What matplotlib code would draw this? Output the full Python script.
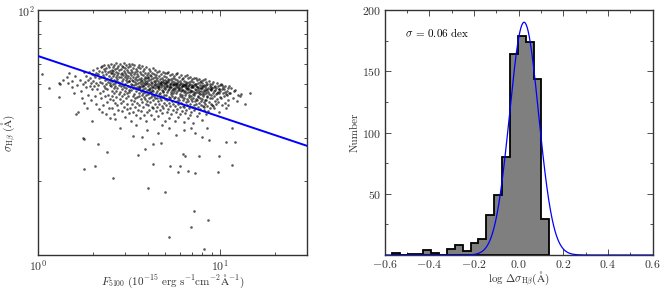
import numpy as np
import matplotlib
matplotlib.use("Agg")
import matplotlib.pyplot as plt
from matplotlib.ticker import FixedLocator, NullFormatter

plt.rcParams['font.family'] = 'serif'
plt.rcParams['font.serif'] = ['cmr10', 'DejaVu Serif']
plt.rcParams['mathtext.fontset'] = 'cm'
plt.rcParams['axes.formatter.use_mathtext'] = True
plt.rcParams['axes.unicode_minus'] = True

# ---------------- data: scatter (log10 F5100, log10 sigma_Hbeta) ----------------
left_pts = [(0.020,1.739),(0.060,1.680),(0.117,1.701),(0.114,1.646),(0.119,1.698),(0.140,1.715),
 (0.158,1.725),(0.166,1.703),(0.172,1.741),(0.187,1.687),(0.189,1.710),(0.196,1.662),(0.205,1.732),
 (0.207,1.574),(0.214,1.694),(0.221,1.582),(0.228,1.716),(0.236,1.668),(0.243,1.640),(0.249,1.697),
 (0.252,1.745),(0.254,1.622),(0.258,1.708),(0.261,1.684),(0.264,1.731),(0.269,1.599),(0.272,1.716),
 (0.275,1.655),(0.279,1.748),(0.283,1.691),(0.286,1.723),(0.289,1.634),(0.292,1.702),(0.295,1.740),
 (0.297,1.548),(0.299,1.676),
 (0.301,1.757),(0.303,1.712),(0.306,1.690),(0.308,1.733),(0.311,1.651),(0.313,1.726),(0.316,1.744),
 (0.318,1.618),(0.320,1.702),(0.323,1.762),(0.325,1.679),(0.327,1.739),(0.330,1.695),(0.333,1.595),
 (0.335,1.750),(0.337,1.721),(0.340,1.663),(0.342,1.708),(0.344,1.766),(0.346,1.640),(0.348,1.728),
 (0.349,1.584)]

ridge_pts = [(0.351,1.771),(0.352,1.702),(0.354,1.745),(0.355,1.668),(0.357,1.733),(0.358,1.612),
 (0.360,1.758),(0.361,1.690),(0.363,1.726),(0.364,1.774),(0.366,1.648),(0.367,1.714),(0.369,1.752),
 (0.370,1.683),(0.372,1.577),(0.373,1.739),(0.375,1.697),(0.376,1.762),(0.378,1.625),(0.379,1.720),
 (0.381,1.678),(0.382,1.776),(0.384,1.708),(0.385,1.745),(0.387,1.655),(0.388,1.731),(0.390,1.598),
 (0.391,1.767),(0.393,1.693),(0.394,1.716),(0.396,1.752),(0.397,1.637),(0.398,1.704),(0.399,1.742),
 (0.395,1.561),
 (0.401,1.779),(0.402,1.688),(0.403,1.724),(0.404,1.650),(0.405,1.757),(0.406,1.712),(0.407,1.601),
 (0.408,1.741),(0.409,1.671),(0.410,1.768),(0.411,1.697),(0.412,1.633),(0.413,1.729),(0.414,1.752),
 (0.415,1.683),(0.416,1.575),(0.417,1.716),(0.418,1.776),(0.419,1.662),(0.420,1.738),(0.421,1.701),
 (0.422,1.620),(0.423,1.555),(0.424,1.760),(0.425,1.691),(0.426,1.727),(0.427,1.646),(0.428,1.748),
 (0.429,1.709),(0.430,1.783),(0.431,1.668),(0.432,1.735),(0.433,1.612),(0.434,1.719),(0.435,1.764),
 (0.436,1.680),(0.437,1.743),(0.438,1.590),(0.439,1.705),(0.441,1.772),(0.443,1.657),(0.444,1.726),
 (0.446,1.694),(0.447,1.755),(0.449,1.638),
 (0.451,1.781),(0.452,1.702),(0.453,1.664),(0.454,1.739),(0.455,1.621),(0.456,1.758),(0.457,1.688),
 (0.458,1.725),(0.459,1.650),(0.460,1.772),(0.461,1.711),(0.462,1.587),(0.463,1.744),(0.464,1.676),
 (0.465,1.733),(0.466,1.628),(0.467,1.766),(0.468,1.695),(0.469,1.719),(0.470,1.658),(0.471,1.751),
 (0.472,1.684),(0.473,1.785),(0.474,1.606),(0.475,1.728),(0.476,1.669),(0.477,1.741),(0.478,1.699),
 (0.479,1.562),(0.480,1.762),(0.481,1.642),(0.482,1.715),(0.483,1.777),(0.484,1.680),(0.485,1.736),
 (0.486,1.615),(0.487,1.706),(0.488,1.754),(0.489,1.661),(0.490,1.722),(0.491,1.596),(0.492,1.769),
 (0.493,1.690),(0.494,1.731),(0.495,1.647),(0.496,1.748),(0.497,1.673),(0.498,1.712),(0.499,1.578),
 (0.499,1.781),
 (0.501,1.709),(0.502,1.665),(0.503,1.742),(0.504,1.598),(0.505,1.771),(0.506,1.687),(0.507,1.723),
 (0.508,1.634),(0.509,1.756),(0.510,1.700),(0.511,1.546),(0.512,1.734),(0.513,1.672),(0.514,1.779),
 (0.515,1.617),(0.516,1.716),(0.517,1.692),(0.518,1.748),(0.519,1.651),(0.520,1.727),(0.521,1.583),
 (0.522,1.764),(0.523,1.680),(0.524,1.710),(0.525,1.628),(0.526,1.739),(0.527,1.694),(0.528,1.658),
 (0.529,1.774),(0.530,1.719),(0.531,1.604),(0.532,1.683),(0.533,1.746),(0.534,1.641),(0.535,1.707),
 (0.536,1.760),(0.537,1.669),(0.538,1.728),(0.539,1.571),(0.540,1.698),(0.541,1.752),(0.542,1.645),
 (0.543,1.714),(0.544,1.686),(0.545,1.737),(0.546,1.620),(0.547,1.768),(0.548,1.676),(0.549,1.703),
 (0.550,1.592)]

core_pts = [(0.551,1.731),(0.552,1.662),(0.553,1.776),(0.554,1.690),(0.555,1.611),(0.556,1.720),
 (0.557,1.648),(0.558,1.747),(0.559,1.684),(0.560,1.559),(0.561,1.706),(0.562,1.765),(0.563,1.637),
 (0.564,1.724),(0.565,1.671),(0.566,1.696),(0.567,1.589),(0.568,1.740),(0.569,1.655),(0.570,1.712),
 (0.571,1.773),(0.572,1.626),(0.573,1.688),(0.574,1.733),(0.575,1.660),(0.576,1.702),(0.577,1.752),
 (0.578,1.603),(0.579,1.679),(0.580,1.718),(0.581,1.644),(0.582,1.760),(0.583,1.693),(0.584,1.573),
 (0.585,1.727),(0.586,1.667),(0.587,1.709),(0.588,1.638),(0.589,1.744),(0.590,1.682),(0.591,1.615),
 (0.592,1.721),(0.593,1.653),(0.594,1.769),(0.595,1.699),(0.596,1.585),(0.597,1.736),(0.598,1.674),
 (0.599,1.711),(0.600,1.630),(0.594,1.548),(0.577,1.688),(0.565,1.715),(0.588,1.702),(0.553,1.681),
 (0.601,1.703),(0.602,1.658),(0.603,1.744),(0.604,1.612),(0.605,1.689),(0.606,1.725),(0.607,1.641),
 (0.608,1.761),(0.609,1.677),(0.610,1.714),(0.611,1.593),(0.612,1.698),(0.613,1.736),(0.614,1.625),
 (0.615,1.683),(0.616,1.752),(0.617,1.665),(0.618,1.708),(0.619,1.571),(0.620,1.729),(0.621,1.646),
 (0.622,1.693),(0.623,1.718),(0.624,1.606),(0.625,1.673),(0.626,1.742),(0.627,1.655),(0.628,1.701),
 (0.629,1.634),(0.630,1.764),(0.631,1.686),(0.632,1.722),(0.633,1.598),(0.634,1.669),(0.635,1.711),
 (0.636,1.740),(0.637,1.651),(0.638,1.694),(0.639,1.556),(0.640,1.727),(0.641,1.618),(0.642,1.680),
 (0.643,1.705),(0.644,1.754),(0.645,1.639),(0.646,1.690),(0.647,1.716),(0.648,1.662),(0.649,1.587),
 (0.650,1.733),(0.612,1.675),(0.628,1.687),(0.641,1.699),(0.605,1.721),(0.622,1.664),
 (0.651,1.697),(0.652,1.642),(0.653,1.722),(0.654,1.669),(0.655,1.605),(0.656,1.745),(0.657,1.684),
 (0.658,1.711),(0.659,1.627),(0.660,1.690),(0.661,1.568),(0.662,1.731),(0.663,1.656),(0.664,1.703),
 (0.665,1.616),(0.666,1.678),(0.667,1.752),(0.668,1.640),(0.669,1.696),(0.670,1.719),(0.671,1.591),
 (0.672,1.662),(0.673,1.708),(0.674,1.633),(0.675,1.686),(0.676,1.737),(0.677,1.651),(0.678,1.700),
 (0.679,1.579),(0.680,1.724),(0.681,1.610),(0.682,1.673),(0.683,1.693),(0.684,1.746),(0.685,1.645),
 (0.686,1.714),(0.687,1.666),(0.688,1.598),(0.689,1.705),(0.690,1.682),(0.691,1.729),(0.692,1.622),
 (0.693,1.688),(0.694,1.655),(0.695,1.716),(0.696,1.547),(0.697,1.698),(0.698,1.638),(0.699,1.741),
 (0.700,1.676),(0.663,1.690),(0.677,1.707),(0.688,1.671),(0.659,1.683),(0.694,1.701),
 (0.701,1.701),(0.702,1.652),(0.703,1.727),(0.704,1.612),(0.705,1.684),(0.706,1.744),(0.707,1.664),
 (0.708,1.709),(0.709,1.585),(0.710,1.691),(0.711,1.633),(0.712,1.720),(0.713,1.673),(0.714,1.597),
 (0.715,1.706),(0.716,1.748),(0.717,1.646),(0.718,1.687),(0.719,1.621),(0.720,1.714),(0.721,1.561),
 (0.722,1.679),(0.723,1.699),(0.724,1.735),(0.725,1.640),(0.726,1.692),(0.727,1.608),(0.728,1.667),
 (0.729,1.718),(0.730,1.656),(0.731,1.703),(0.732,1.574),(0.733,1.686),(0.734,1.739),(0.735,1.627),
 (0.736,1.675),(0.737,1.710),(0.738,1.648),(0.739,1.694),(0.740,1.592),(0.741,1.724),(0.742,1.661),
 (0.743,1.696),(0.744,1.615),(0.745,1.681),(0.746,1.731),(0.747,1.639),(0.748,1.706),(0.749,1.669),
 (0.750,1.548),(0.711,1.693),(0.727,1.684),(0.739,1.677),(0.705,1.708),(0.745,1.698)]

right_pts = [(0.751,1.693),(0.752,1.646),(0.753,1.718),(0.754,1.608),(0.755,1.676),(0.756,1.737),
 (0.757,1.661),(0.758,1.702),(0.759,1.583),(0.760,1.687),(0.761,1.627),(0.762,1.713),(0.763,1.668),
 (0.764,1.597),(0.765,1.699),(0.766,1.742),(0.767,1.640),(0.768,1.681),(0.769,1.616),(0.770,1.708),
 (0.771,1.565),(0.772,1.672),(0.773,1.694),(0.774,1.728),(0.775,1.634),(0.776,1.687),(0.777,1.603),
 (0.778,1.658),(0.779,1.712),(0.780,1.649),(0.781,1.697),(0.782,1.575),(0.783,1.680),(0.784,1.733),
 (0.785,1.622),(0.786,1.669),(0.787,1.704),(0.788,1.643),(0.789,1.690),(0.790,1.589),(0.791,1.718),
 (0.792,1.655),(0.793,1.691),(0.794,1.610),(0.795,1.675),(0.796,1.724),(0.797,1.632),(0.798,1.700),
 (0.799,1.664),(0.800,1.541),(0.761,1.688),(0.776,1.679),(0.789,1.672),(0.757,1.700),(0.794,1.693),
 (0.801,1.688),(0.802,1.640),(0.803,1.712),(0.804,1.604),(0.805,1.670),(0.806,1.730),(0.807,1.655),
 (0.808,1.697),(0.809,1.578),(0.810,1.682),(0.811,1.623),(0.812,1.707),(0.813,1.662),(0.814,1.592),
 (0.815,1.693),(0.816,1.735),(0.817,1.635),(0.818,1.676),(0.819,1.611),(0.820,1.702),(0.821,1.559),
 (0.822,1.667),(0.823,1.689),(0.824,1.721),(0.825,1.629),(0.826,1.681),(0.827,1.599),(0.828,1.652),
 (0.829,1.706),(0.830,1.643),(0.831,1.692),(0.832,1.571),(0.833,1.674),(0.834,1.727),(0.835,1.617),
 (0.836,1.664),(0.837,1.698),(0.838,1.638),(0.839,1.685),(0.840,1.584),(0.841,1.712),(0.842,1.650),
 (0.843,1.686),(0.844,1.606),(0.845,1.670),(0.846,1.718),(0.847,1.627),(0.848,1.695),(0.849,1.659),
 (0.850,1.537),(0.811,1.684),(0.826,1.676),(0.839,1.669),(0.807,1.695),(0.844,1.688),
 (0.851,1.684),(0.852,1.641),(0.853,1.706),(0.854,1.612),(0.855,1.667),(0.856,1.722),(0.857,1.653),
 (0.858,1.693),(0.859,1.590),(0.860,1.679),(0.861,1.628),(0.862,1.700),(0.863,1.660),(0.864,1.601),
 (0.865,1.688),(0.866,1.724),(0.867,1.636),(0.868,1.673),(0.869,1.617),(0.870,1.697),(0.871,1.568),
 (0.872,1.664),(0.873,1.684),(0.874,1.713),(0.875,1.632),(0.876,1.678),(0.877,1.606),(0.878,1.650),
 (0.879,1.702),(0.880,1.645),(0.881,1.687),(0.882,1.580),(0.883,1.670),(0.884,1.717),(0.885,1.622),
 (0.886,1.662),(0.887,1.694),(0.888,1.640),(0.889,1.681),(0.890,1.596),(0.891,1.706),(0.892,1.656),
 (0.893,1.682),(0.894,1.614),(0.895,1.668),(0.896,1.709),(0.897,1.630),(0.898,1.690),(0.899,1.657),
 (0.900,1.552),
 (0.901,1.680),(0.902,1.637),(0.903,1.701),(0.904,1.610),(0.905,1.664),(0.906,1.715),(0.907,1.650),
 (0.908,1.688),(0.909,1.592),(0.910,1.675),(0.911,1.626),(0.912,1.695),(0.913,1.657),(0.914,1.603),
 (0.915,1.684),(0.916,1.718),(0.917,1.633),(0.918,1.670),(0.919,1.618),(0.920,1.692),(0.921,1.575),
 (0.922,1.661),(0.923,1.679),(0.924,1.707),(0.925,1.631),(0.926,1.674),(0.927,1.609),(0.928,1.648),
 (0.929,1.697),(0.930,1.643),(0.931,1.682),(0.933,1.586),(0.935,1.667),(0.937,1.710),(0.939,1.624),
 (0.941,1.659),(0.943,1.689),(0.944,1.639),(0.945,1.677),(0.946,1.598),(0.947,1.700),(0.948,1.654),
 (0.949,1.672),(0.950,1.615),(0.950,1.686),
 (0.952,1.676),(0.954,1.640),(0.956,1.698),(0.958,1.612),(0.960,1.663),(0.962,1.705),(0.964,1.651),
 (0.966,1.684),(0.968,1.598),(0.970,1.672),(0.972,1.629),(0.974,1.691),(0.976,1.657),(0.978,1.617),
 (0.980,1.680),(0.982,1.701),(0.984,1.636),(0.986,1.667),(0.988,1.624),(0.990,1.688),(0.992,1.583),
 (0.994,1.660),(0.996,1.676),(0.998,1.695),(0.999,1.645),(0.957,1.683),(0.969,1.669),(0.981,1.662),
 (0.993,1.679),(0.963,1.607),
 (1.002,1.671),(1.005,1.639),(1.008,1.693),(1.011,1.611),(1.014,1.660),(1.017,1.686),(1.020,1.649),
 (1.023,1.677),(1.026,1.622),(1.029,1.690),(1.032,1.656),(1.035,1.601),(1.038,1.670),(1.041,1.683),
 (1.044,1.633),(1.047,1.663),(1.050,1.689),(1.013,1.676),(1.027,1.667),(1.039,1.652),(1.004,1.700),
 (1.046,1.612),
 (1.055,1.662),(1.062,1.682),(1.064,1.520),(1.070,1.641),(1.077,1.668),(1.082,1.673),(1.090,1.628),
 (1.098,1.655),(1.108,1.647),(1.115,1.657),(1.134,1.615),(1.165,1.662)]

tail_pts = [(0.248,1.476),(0.253,1.350),(0.251,1.473),(0.314,1.364),(0.331,1.453),(0.379,1.419),
 (0.414,1.313),(0.524,1.486),(0.547,1.409),(0.573,1.483),(0.587,1.431),(0.602,1.273),(0.630,1.453),
 (0.631,1.370),(0.677,1.456),(0.700,1.258),(0.718,1.073),(0.723,1.364),(0.770,1.339),(0.782,1.364),
 (0.794,1.412),(0.808,1.405),(0.826,1.342),(0.842,1.116),(0.856,1.181),(0.863,1.336),(0.883,1.403),
 (0.914,1.023),(0.931,1.144),(0.940,1.469),(0.987,1.338),(0.993,1.405),(1.033,1.463),(1.068,1.366),
 (1.084,1.462),(0.450,1.520),(0.600,1.510),(0.660,1.500),(0.720,1.520),(0.760,1.490),(0.800,1.510),
 (0.860,1.500),(0.900,1.480),(0.930,1.520),(0.540,1.530),(0.680,1.530),(0.840,1.520)]

# fitted relation (read at the axis edges)
fit_flux = [1.0, 30.0]
fit_sigma = [64.9, 27.9]

# ---------------- data: histogram of log Δσ ----------------
hist_counts = [2, 0, 1, 1, 4, 2, 0, 5, 8, 3, 10, 13, 33, 49, 80, 164, 179, 174, 144, 29]
hist_min, hist_max = -0.567, 0.138
gauss_amp, gauss_mu, gauss_sig = 190.0, 0.025, 0.065
sigma_text = r'$\sigma$ = 0.06 dex'

# ---------------- figure ----------------
FS_TICK = 8.5
FS_LAB = 8.0
fig = plt.figure(figsize=(6.65, 2.90), dpi=100)
ax1 = fig.add_axes([38/665, 35/290, 269/665, 245/290])
ax2 = fig.add_axes([384.5/665, 35/290, 268/665, 245/290])

allpts = np.array(left_pts + ridge_pts + core_pts + right_pts + tail_pts)
flux = 10 ** allpts[:, 0]
sig = 10 ** allpts[:, 1]
ax1.scatter(flux, sig, s=3.5, c='k', alpha=0.65, linewidths=0, zorder=2)
ax1.plot(fit_flux, fit_sigma, color='blue', lw=1.4, zorder=3)
ax1.set_xscale('log')
ax1.set_yscale('log')
ax1.set_xlim(1, 30)
ax1.set_ylim(10, 100)
ax1.set_xticks([1, 10], [r'$10^{0}$', r'$10^{1}$'])
ax1.set_yticks([10, 100], ['', r'$10^{2}$'])
ax1.xaxis.set_minor_locator(FixedLocator([2, 3, 4, 5, 6, 7, 8, 9, 20, 30]))
ax1.yaxis.set_minor_locator(FixedLocator([20, 30, 40, 50, 60, 70, 80, 90]))
ax1.xaxis.set_minor_formatter(NullFormatter())
ax1.yaxis.set_minor_formatter(NullFormatter())
ax1.set_xlabel(r'$F_{5100}\ (10^{-15}\ \mathrm{erg\ s^{-1}cm^{-2}}\mathrm{\AA}^{-1})$', fontsize=FS_LAB)
ax1.set_ylabel(r'$\sigma_{\mathrm{H}\beta}\ (\mathrm{\AA})$', fontsize=FS_LAB)
ax1.xaxis.set_label_coords(0.5, -0.072)
ax1.yaxis.set_label_coords(-0.072, 0.5)

edges = np.linspace(hist_min, hist_max, len(hist_counts) + 1)
ax2.hist(edges[:-1], bins=edges, weights=hist_counts, histtype='stepfilled',
         facecolor='#7f7f7f', edgecolor='k', linewidth=1.3, zorder=2)
xx = np.linspace(-0.6, 0.6, 600)
ax2.plot(xx, gauss_amp * np.exp(-(xx - gauss_mu) ** 2 / (2 * gauss_sig ** 2)),
         color='blue', lw=0.9, zorder=3)
ax2.set_xlim(-0.6, 0.6)
ax2.set_ylim(0, 200)
ax2.set_xticks([-0.6, -0.4, -0.2, 0.0, 0.2, 0.4, 0.6])
ax2.xaxis.set_minor_locator(FixedLocator([-0.5, -0.3, -0.1, 0.1, 0.3, 0.5]))
ax2.set_yticks([50, 100, 150, 200])
ax2.yaxis.set_minor_locator(FixedLocator([25, 75, 125, 175]))
ax2.set_xlabel(r'$\log\,\Delta\sigma_{\mathrm{H}\beta}(\mathrm{\AA})$', fontsize=FS_LAB)
ax2.set_ylabel('Number', fontsize=FS_LAB)
ax2.xaxis.set_label_coords(0.5, -0.06)
ax2.yaxis.set_label_coords(-0.092, 0.5)
ax2.text(-0.51, 182, sigma_text, fontsize=FS_LAB, ha='left', va='center')

for ax in (ax1, ax2):
    ax.tick_params(which='both', direction='in', top=True, right=True,
                   labelsize=FS_TICK, width=0.6, colors='#333333', labelcolor='#333333')
    ax.tick_params(which='major', length=4, pad=2.5)
    ax.tick_params(which='minor', length=2)
    for s in ax.spines.values():
        s.set_linewidth(1.0)
        s.set_color('#333333')
    ax.xaxis.label.set_color('#333333')
    ax.yaxis.label.set_color('#333333')

fig.savefig('out.png', dpi=100)
